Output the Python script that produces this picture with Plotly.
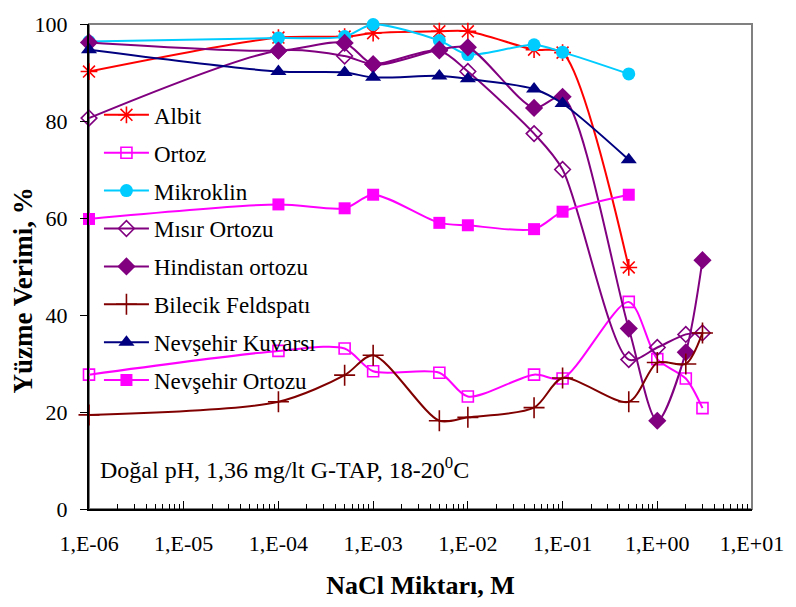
import plotly.graph_objects as go

# NaCl concentrations (M)
x_short = [1e-6, 1e-4, 5e-4, 1e-3, 5e-3, 1e-2, 5e-2, 1e-1, 5e-1]
x_long = [1e-6, 1e-4, 5e-4, 1e-3, 5e-3, 1e-2, 5e-2, 1e-1, 5e-1, 1, 2, 3]

# Flotation recovery (%) per mineral
albit = [90.2, 97.2, 97.4, 98.1, 98.5, 98.5, 94.7, 94.1, 49.8]
ortoz = [27.7, 32.6, 33.1, 28.4, 28.1, 23.2, 27.7, 26.9, 42.7, 30.9, 26.9, 20.8]
mikroklin = [96.4, 97.1, 97.4, 99.9, 96.6, 93.7, 95.7, 94.2, 89.7]
misir_ortozu = [80.6, 94.5, 93.4, 91.7, 94.5, 90.2, 77.4, 70.0, 30.8, 33.3, 36.0, 36.3]
hindistan_ortozu = [96.2, 94.5, 96.1, 91.7, 94.7, 95.2, 82.7, 85.0, 37.2, 18.2, 32.3, 51.3]
bilecik = [19.4, 22.1, 27.6, 31.7, 18.2, 18.9, 20.9, 27.0, 22.1, 30.2, 29.9, 36.3]
nevsehir_kuvarsi = [94.7, 90.2, 90.0, 89.0, 89.3, 88.7, 86.6, 83.6, 72.0]
nevsehir_ortozu = [59.8, 62.8, 62.0, 64.8, 59.0, 58.5, 57.7, 61.3, 64.8]

x_tickvals = [1e-6, 1e-5, 1e-4, 1e-3, 1e-2, 1e-1, 1, 10]
x_ticktext = ["1,E-06", "1,E-05", "1,E-04", "1,E-03", "1,E-02", "1,E-01", "1,E+00", "1,E+01"]

FONT = "Liberation Serif"

series = [
    ("Albit", x_short, albit, "#FF0000", "asterisk-open", 14),
    ("Ortoz", x_long, ortoz, "#FF00FF", "square-open", 11),
    ("Mikroklin", x_short, mikroklin, "#00CCFF", "circle", 13),
    ("Mısır Ortozu", x_long, misir_ortozu, "#800080", "diamond-open", 12),
    ("Hindistan ortozu", x_long, hindistan_ortozu, "#800080", "diamond", 14),
    ("Bilecik Feldspatı", x_long, bilecik, "#800000", "cross-thin-open", 15),
    ("Nevşehir Kuvarsı", x_short, nevsehir_kuvarsi, "#000080", "triangle-up", 14),
    ("Nevşehir Ortozu", x_short, nevsehir_ortozu, "#FF00FF", "square", 12),
]

fig = go.Figure()
for name, xs, ys, color, symbol, size in series:
    open_sym = symbol.endswith("open")
    fig.add_trace(go.Scatter(
        x=xs, y=ys, name=name, mode="lines+markers",
        legendgroup=name, cliponaxis=False,
        line=dict(color=color, width=2, shape="spline", smoothing=0.8),
        marker=dict(symbol=symbol, size=size, color=color,
                    line=dict(color=color, width=1.6 if open_sym else 0)),
    ))

# grey frame around the plotting area; left and bottom axes are drawn black on top
fig.add_shape(type="rect", xref="paper", yref="paper", x0=0, y0=0, x1=1, y1=1,
              line=dict(color="#808080", width=2), layer="below")

fig.add_annotation(
    xref="paper", yref="paper", x=0.013, y=0.084, xanchor="left", yanchor="middle",
    text="Doğal pH, 1,36 mg/lt G-TAP, 18-20<sup>0</sup>C", showarrow=False,
    font=dict(family=FONT, size=24, color="black"),
)

# y-axis title, placed slightly below the vertical centre of the plot
fig.add_annotation(
    xref="paper", yref="paper", x=-0.1, y=0.45, xanchor="center", yanchor="middle",
    text="<b>Yüzme Verimi, %</b>", textangle=-90, showarrow=False,
    font=dict(family=FONT, size=27, color="black"),
)

fig.update_layout(
    width=796, height=607,
    margin=dict(l=89, r=38, t=16, b=98),
    paper_bgcolor="white", plot_bgcolor="white",
    font=dict(family=FONT, size=22, color="black"),
    showlegend=True,
    legend=dict(
        x=0.015, y=0.857, xanchor="left", yanchor="top",
        bgcolor="rgba(0,0,0,0)", borderwidth=0,
        font=dict(family=FONT, size=23, color="black"),
        tracegroupgap=5, itemwidth=45,
    ),
    xaxis=dict(
        type="log", range=[-6, 1],
        tickvals=x_tickvals, ticktext=x_ticktext,
        ticks="inside", ticklen=8, tickcolor="black", tickwidth=1,
        minor=dict(ticks="inside", ticklen=5, tickcolor="black", dtick="D1", showgrid=False),
        showline=True, linecolor="black", linewidth=2,
        showgrid=False, zeroline=False,
        ticklabelstandoff=14,
        title=dict(text="<b>NaCl Miktarı, M</b>", font=dict(family=FONT, size=26), standoff=20),
    ),
    yaxis=dict(
        range=[0, 100], tickvals=[0, 20, 40, 60, 80, 100],
        ticks="outside", ticklen=7, tickcolor="black",
        showline=True, linecolor="black", linewidth=2,
        showgrid=False, zeroline=False,
        ticklabelstandoff=8,
    ),
)

fig.write_html("out.html")
